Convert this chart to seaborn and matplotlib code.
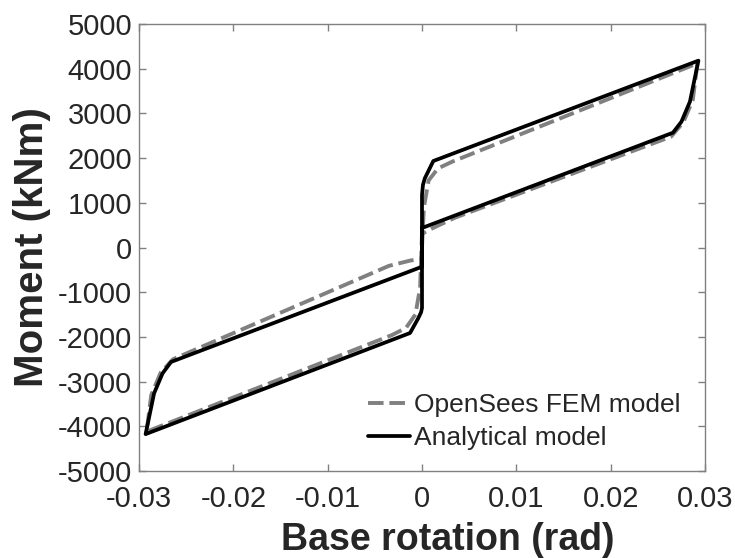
import numpy as np
import pandas as pd
import matplotlib
matplotlib.use('Agg')
import matplotlib.pyplot as plt
import seaborn as sns

# OpenSees FEM model loop
fem_rot = [0.0, 0.0002, 0.0007, 0.0017, 0.0032, 0.0292,
           0.0287, 0.0277, 0.0264, 0.0035, 0.0010, 0.0002, 0.0,
           -0.0002, -0.0007, -0.0017, -0.0032, -0.0292,
           -0.0287, -0.0277, -0.0264, -0.0035, -0.0012, 0.0, 0.0]
fem_mom = [0, 900, 1500, 1770, 1920, 4120,
           3300, 2800, 2480, 667, 420, 330, 300,
           -900, -1500, -1800, -1960, -4120,
           -3300, -2800, -2500, -410, -290, -250, 0]

# Analytical model loop
ana_rot = [0.0, 0.0, 0.0001, 0.0003, 0.0012, 0.0293,
           0.0284, 0.0275, 0.0266, 0.0, 0.0,
           -0.0001, -0.0004, -0.00127, -0.0293,
           -0.0284, -0.0275, -0.0266, 0.0, 0.0]
ana_mom = [0, 1174, 1400, 1548, 1935, 4180,
           3262, 2814, 2568, 436, -1353,
           -1450, -1584, -1913, -4175,
           -3262, -2814, -2560, -430, 0]

fem = pd.DataFrame({'rot': fem_rot, 'mom': fem_mom})
ana = pd.DataFrame({'rot': ana_rot, 'mom': ana_mom})

sns.set_style('white')
plt.rcParams['font.family'] = ['Liberation Sans', 'DejaVu Sans']

fig = plt.figure(figsize=(7.35, 5.58), dpi=100)
ax = fig.add_axes([0.1891, 0.1559, 0.7701, 0.8011])

sns.lineplot(data=fem, x='rot', y='mom', sort=False, estimator=None, ax=ax,
             color='#808080', lw=2.8, linestyle=(0, (4.0, 1.5)),
             label='OpenSees FEM model')
sns.lineplot(data=ana, x='rot', y='mom', sort=False, estimator=None, ax=ax,
             color='black', lw=2.7, label='Analytical model')

ax.set_xlim(-0.03, 0.03)
ax.set_ylim(-5000, 5000)
ax.set_xticks(np.arange(-0.03, 0.031, 0.01))
ax.set_xticklabels(['-0.03', '-0.02', '-0.01', '0', '0.01', '0.02', '0.03'])
ax.set_yticks(np.arange(-5000, 5001, 1000))
ax.set_yticklabels([str(v) for v in range(-5000, 5001, 1000)])

for s in ax.spines.values():
    s.set_color('#808080')
    s.set_linewidth(1.0)
ax.tick_params(direction='in', length=5, width=1, color='#808080',
               labelsize=21, labelcolor='#262626', top=True, right=True,
               left=True, bottom=True)
ax.tick_params(axis='x', pad=10)
ax.tick_params(axis='y', pad=5)

ax.set_xlabel('Base rotation (rad)', fontsize=27, fontweight='bold', color='#262626')
ax.set_ylabel('Moment (kNm)', fontsize=29, fontweight='bold', color='#262626')
ax.xaxis.set_label_coords(0.545, -0.114)
ax.yaxis.set_label_coords(-0.155, 0.5)

ax.legend(loc='lower right', frameon=False, fontsize=19, handlelength=1.6,
          handletextpad=0.15, borderaxespad=0.3, labelspacing=0.35,
          bbox_to_anchor=(0.99, 0.005))

fig.savefig('out.png', dpi=100)
